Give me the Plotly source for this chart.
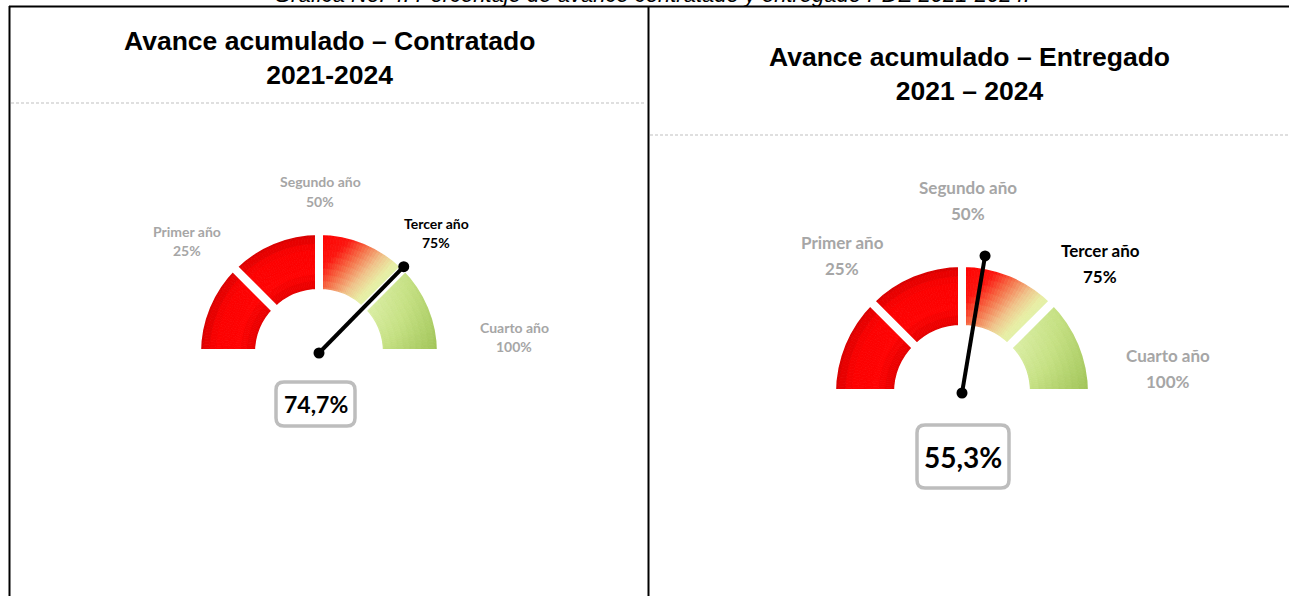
import math
import plotly.graph_objects as go

# ---------------- data ----------------
stage_names = ["Primer año", "Segundo año", "Tercer año", "Cuarto año"]
stage_pcts = [25, 50, 75, 100]
gauge_titles = ["Avance acumulado – Contratado", "Avance acumulado – Entregado"]
gauge_periods = ["2021-2024", "2021 – 2024"]
gauge_values = [74.7, 55.3]
header_text = "Gráfica No. 4. Porcentaje de avance contratado y entregado PDE 2021-2024."

# ---------------- layout / style ----------------
W, H = 1289, 596
DEG_PER_PCT = 180.0 / 100.0


def px(x):
    return x / W


def py(y):
    return 1 - y / H


panels = [
    dict(cx=319, cy=353, r_out=118, r_in=64, needle=121, rd=132,
         title_x=329, title_y=58,
         label_size=14, label_dy=19.5,
         label_pos=[(187, 231), (320, 182), (436, 223), (514, 327)],
         box=(276, 382, 355, 426), value_size=23),
    dict(cx=962, cy=393, r_out=126, r_in=68, needle=139, rd=150,
         title_x=969, title_y=74,
         label_size=17, label_dy=26,
         label_pos=[(842, 243), (968, 187), (1100, 250), (1168, 355)],
         box=(917, 425, 1009, 488), value_size=28),
]

GAP = 8
N_ANG, N_RAD = 30, 10
GRAY = "#a6a6a6"
LABEL_FONT = "Lato, Carlito, Calibri, 'Open Sans', sans-serif"
TITLE_FONT = "'Liberation Sans', Arial, sans-serif"


def lerp_stops(stops, t):
    t = max(0.0, min(1.0, t))
    for (t0, c0), (t1, c1) in zip(stops, stops[1:]):
        if t <= t1:
            f = (t - t0) / (t1 - t0) if t1 > t0 else 0
            return tuple(round(a + (b - a) * f) for a, b in zip(c0, c1))
    return stops[-1][1]


RED_STOPS = [(0, (228, 0, 0)), (0.3, (255, 4, 4)), (0.75, (252, 2, 2)), (1, (218, 0, 0))]
YEL_STOPS = [(0, (255, 0, 0)), (0.3, (252, 22, 16)), (0.5, (246, 108, 70)),
             (0.72, (240, 196, 140)), (0.88, (232, 238, 165)), (1, (224, 242, 168))]
GRN_STOPS = [(0, (222, 240, 170)), (0.5, (198, 225, 132)), (1, (160, 196, 88))]


def cell_color(seg, phi_deg, r, p):
    r_in, r_out = p["r_in"], p["r_out"]
    phi = math.radians(phi_deg)
    x, y = r * math.cos(phi), r * math.sin(phi)
    rf = (r - r_in) / (r_out - r_in)
    if seg < 2:
        c = lerp_stops(RED_STOPS, rf)
    elif seg == 2:
        c = lerp_stops(YEL_STOPS, (x + r_out - y) / r_out)
    else:
        t = 0.55 * (1 - phi_deg / 45.0) + 0.45 * rf
        c = lerp_stops(GRN_STOPS, t)
    return "rgb(%d,%d,%d)" % c


fig = go.Figure()
shapes = []
annotations = []
bounds = [0] + stage_pcts

for k, p in enumerate(panels):
    pid = "polar" if k == 0 else "polar%d" % (k + 1)
    sub = pid
    r_in, r_out = p["r_in"], p["r_out"]
    base0 = r_in - GAP / 2
    band = (r_out - r_in) + GAP

    # filled (shaded) segments
    th, rr, bb, ww, cc = [], [], [], [], []
    for s in range(len(stage_pcts)):
        a, b = bounds[s] * DEG_PER_PCT, bounds[s + 1] * DEG_PER_PCT
        dth = (b - a) / N_ANG
        dr = band / N_RAD
        for i in range(N_ANG):
            tc = a + (i + 0.5) * dth
            for j in range(N_RAD):
                rc = base0 + (j + 0.5) * dr
                th.append(tc)
                rr.append(dr)
                bb.append(base0 + j * dr)
                ww.append(dth)
                cc.append(cell_color(s, 180 - tc, rc, p))
    fig.add_trace(go.Barpolar(
        theta=th, r=rr, base=bb, width=ww, subplot=sub,
        marker=dict(color=cc, line=dict(color=cc, width=0.8)),
        hoverinfo="skip", showlegend=False))

    # white outlines to carve the gaps between the four stages
    fig.add_trace(go.Barpolar(
        theta=[(bounds[s] + bounds[s + 1]) / 2 * DEG_PER_PCT for s in range(len(stage_pcts))],
        r=[band] * len(stage_pcts), base=[base0] * len(stage_pcts),
        width=[(bounds[s + 1] - bounds[s]) * DEG_PER_PCT for s in range(len(stage_pcts))],
        subplot=sub,
        marker=dict(color="rgba(0,0,0,0)", line=dict(color="white", width=GAP)),
        hoverinfo="skip", showlegend=False))

    # needle
    v = gauge_values[k]
    fig.add_trace(go.Scatterpolar(
        r=[0, p["needle"]], theta=[v * DEG_PER_PCT] * 2, subplot=sub,
        mode="lines+markers",
        line=dict(color="black", width=4),
        marker=dict(color="black", size=11),
        hoverinfo="skip", showlegend=False))

    rd = p["rd"]
    fig.update_layout(**{pid: dict(
        domain=dict(x=[px(p["cx"] - rd), px(p["cx"] + rd)],
                    y=[py(p["cy"]), py(p["cy"] - rd)]),
        sector=[0, 180],
        bgcolor="rgba(0,0,0,0)",
        radialaxis=dict(visible=False, range=[0, rd], autorange=False),
        angularaxis=dict(visible=False, rotation=180, direction="clockwise"),
    )})

    # stage labels (the stage holding the value is highlighted)
    hi = next(i for i, s in enumerate(stage_pcts) if v <= s)
    for i, (name, pct) in enumerate(zip(stage_names, stage_pcts)):
        lx, ly = p["label_pos"][i]
        col = "black" if i == hi else GRAY
        for line_i, txt in enumerate([name, "%d%%" % pct]):
            annotations.append(dict(
                x=px(lx), y=py(ly + line_i * p["label_dy"]), xref="paper", yref="paper",
                text="<b>%s</b>" % txt, showarrow=False, xanchor="center", yanchor="middle",
                font=dict(family=LABEL_FONT, size=p["label_size"], color=col)))

    # value box
    x0, y0, x1, y1 = p["box"]
    rad = 8
    rx, ry = rad / W, rad / H
    X0, X1, Y0, Y1 = px(x0), px(x1), py(y0), py(y1)
    path = ("M %f,%f L %f,%f Q %f,%f %f,%f L %f,%f Q %f,%f %f,%f L %f,%f Q %f,%f %f,%f "
            "L %f,%f Q %f,%f %f,%f Z") % (
        X0 + rx, Y0, X1 - rx, Y0, X1, Y0, X1, Y0 - ry,
        X1, Y1 + ry, X1, Y1, X1 - rx, Y1,
        X0 + rx, Y1, X0, Y1, X0, Y1 + ry,
        X0, Y0 - ry, X0, Y0, X0 + rx, Y0)
    shapes.append(dict(type="path", xref="paper", yref="paper", path=path,
                       line=dict(color="#bdbdbd", width=3.5), fillcolor="white"))
    annotations.append(dict(
        x=px((x0 + x1) / 2), y=py((y0 + y1) / 2), xref="paper", yref="paper",
        text="<b>%s</b>" % (("%.1f" % v).replace(".", ",") + "%"), showarrow=False,
        xanchor="center", yanchor="middle",
        font=dict(family=LABEL_FONT, size=p["value_size"], color="black")))

    # panel title
    annotations.append(dict(
        x=px(p["title_x"]), y=py(p["title_y"]), xref="paper", yref="paper",
        text="<b>%s<br>%s</b>" % (gauge_titles[k], gauge_periods[k]), showarrow=False,
        xanchor="center", yanchor="middle",
        font=dict(family=TITLE_FONT, size=26.5, color="black")))

# header (cut off at the top of the picture, as in the source)
annotations.append(dict(
    x=px(652), y=py(-6), xref="paper", yref="paper", text="<i>" + header_text + "</i>",
    showarrow=False, xanchor="center", yanchor="middle",
    font=dict(family="'Liberation Sans', Arial, sans-serif", size=22, color="black")))

# table borders and dashed separators
line_k = dict(color="black", width=2)
shapes += [
    dict(type="line", xref="paper", yref="paper", x0=px(9), x1=1, y0=py(6.5), y1=py(6.5), line=line_k),
    dict(type="line", xref="paper", yref="paper", x0=px(9.5), x1=px(9.5), y0=py(6), y1=0, line=line_k),
    dict(type="line", xref="paper", yref="paper", x0=px(648.5), x1=px(648.5), y0=py(6), y1=0, line=line_k),
    dict(type="line", xref="paper", yref="paper", x0=px(11), x1=px(646), y0=py(103), y1=py(103),
         line=dict(color="#bfbfbf", width=1, dash="3px,2px")),
    dict(type="line", xref="paper", yref="paper", x0=px(650), x1=1, y0=py(135), y1=py(135),
         line=dict(color="#bfbfbf", width=1, dash="3px,2px")),
]

fig.update_layout(
    width=W, height=H,
    margin=dict(l=0, r=0, t=0, b=0),
    paper_bgcolor="white", plot_bgcolor="white",
    shapes=shapes, annotations=annotations,
    showlegend=False,
)

fig.write_html(
    "out.html",
    config={"displayModeBar": False},
    post_script="document.body.style.margin='0';document.body.style.overflow='hidden';"
                "document.documentElement.style.overflow='hidden';",
)
